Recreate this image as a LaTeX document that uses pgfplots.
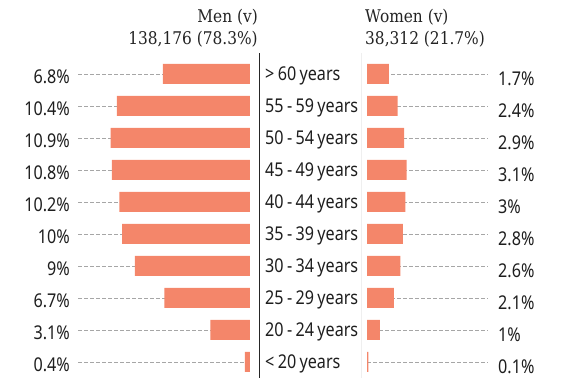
\documentclass[border=0pt]{standalone}
\usepackage{pgfplots}
\pgfplotsset{compat=1.18}
\usepackage{fontspec}
\setmainfont{Noto Sans}[FakeStretch=0.85, WordSpace=0.8]
\newfontfamily\titlefont{DejaVu Serif}[FakeStretch=0.88]
\definecolor{barc}{RGB}{244,134,106}
\definecolor{txt}{RGB}{30,30,30}
\definecolor{ttl}{RGB}{35,35,35}
\begin{document}
\begin{tikzpicture}
\useasboundingbox (0pt,0pt) rectangle (571pt,388pt);
\pgfplotsset{
  rowaxis/.style={
    scale only axis, height=320pt, ymin=-0.5, ymax=9.5, enlargelimits=false,
    xtick=\empty, ytick={0,...,9}, axis line style={draw=none},
    major tick length=0pt, ymajorgrids,
    major grid style={black!35, line width=0.7pt, dash pattern=on 3.5pt off 2.5pt},
    yticklabel style={font=\fontsize{19}{21}\selectfont, text=txt, inner sep=0pt},
    xbar, bar width=20pt, clip=false},
}
% Men
\begin{axis}[rowaxis, at={(250pt,10pt)}, anchor=south east, width=174pt,
  xmin=0, xmax=13.6, x dir=reverse,
  yticklabels={0.4\%,3.1\%,6.7\%,9\%,10\%,10.2\%,10.8\%,10.9\%,10.4\%,6.8\%},
  yticklabel style={anchor=east, xshift=-6pt, yshift=-2.5pt}]
\addplot[fill=barc, draw=none] coordinates {
 (0.4,0) (3.1,1) (6.7,2) (9,3) (10,4) (10.2,5) (10.8,6) (10.9,7) (10.4,8) (6.8,9)};
\end{axis}
% Categories
\begin{axis}[scale only axis, at={(259pt,10pt)}, anchor=south west, width=102pt, height=325pt,
  xmin=0, xmax=1, ymin=-0.5, ymax=9.65625, enlargelimits=false,
  xtick=\empty, ytick={0,...,9}, axis line style={draw=none}, major tick length=0pt,
  yticklabels={{< 20 years},{20 - 24 years},{25 - 29 years},{30 - 34 years},{35 - 39 years},{40 - 44 years},{45 - 49 years},{50 - 54 years},{55 - 59 years},{> 60 years}},
  yticklabel style={anchor=west, inner sep=0pt, xshift=6pt, yshift=-2pt, font=\fontsize{19}{21}\selectfont, text=txt}]
\draw[black!85, line width=0.9pt] (rel axis cs:0,0) -- (rel axis cs:0,1);
\draw[gray, line width=0.9pt] (rel axis cs:1,0) -- (rel axis cs:1,1);
\end{axis}
% Women
\begin{axis}[rowaxis, at={(367pt,10pt)}, anchor=south west, width=121pt,
  xmin=0, xmax=9.45, yticklabel pos=right,
  yticklabels={0.1\%,1\%,2.1\%,2.6\%,2.8\%,3\%,3.1\%,2.9\%,2.4\%,1.7\%},
  yticklabel style={anchor=west, xshift=10pt, yshift=-5pt}]
\addplot[fill=barc, draw=none] coordinates {
 (0.1,0) (1,1) (2.1,2) (2.6,3) (2.8,4) (3,5) (3.1,6) (2.9,7) (2.4,8) (1.7,9)};
\end{axis}
% Titles
\node[anchor=base east, inner sep=0pt, text=ttl, font=\titlefont\fontsize{17.5}{19}\selectfont] at (258pt,365pt) {Men (v)};
\node[anchor=base east, inner sep=0pt, text=ttl, font=\titlefont\fontsize{17.5}{19}\selectfont] at (258pt,343pt) {138,176 (78.3\%)};
\node[anchor=base west, inner sep=0pt, text=ttl, font=\titlefont\fontsize{17.5}{19}\selectfont] at (365pt,365pt) {Women (v)};
\node[anchor=base west, inner sep=0pt, text=ttl, font=\titlefont\fontsize{17.5}{19}\selectfont] at (365pt,343pt) {38,312 (21.7\%)};
\end{tikzpicture}
\end{document}
